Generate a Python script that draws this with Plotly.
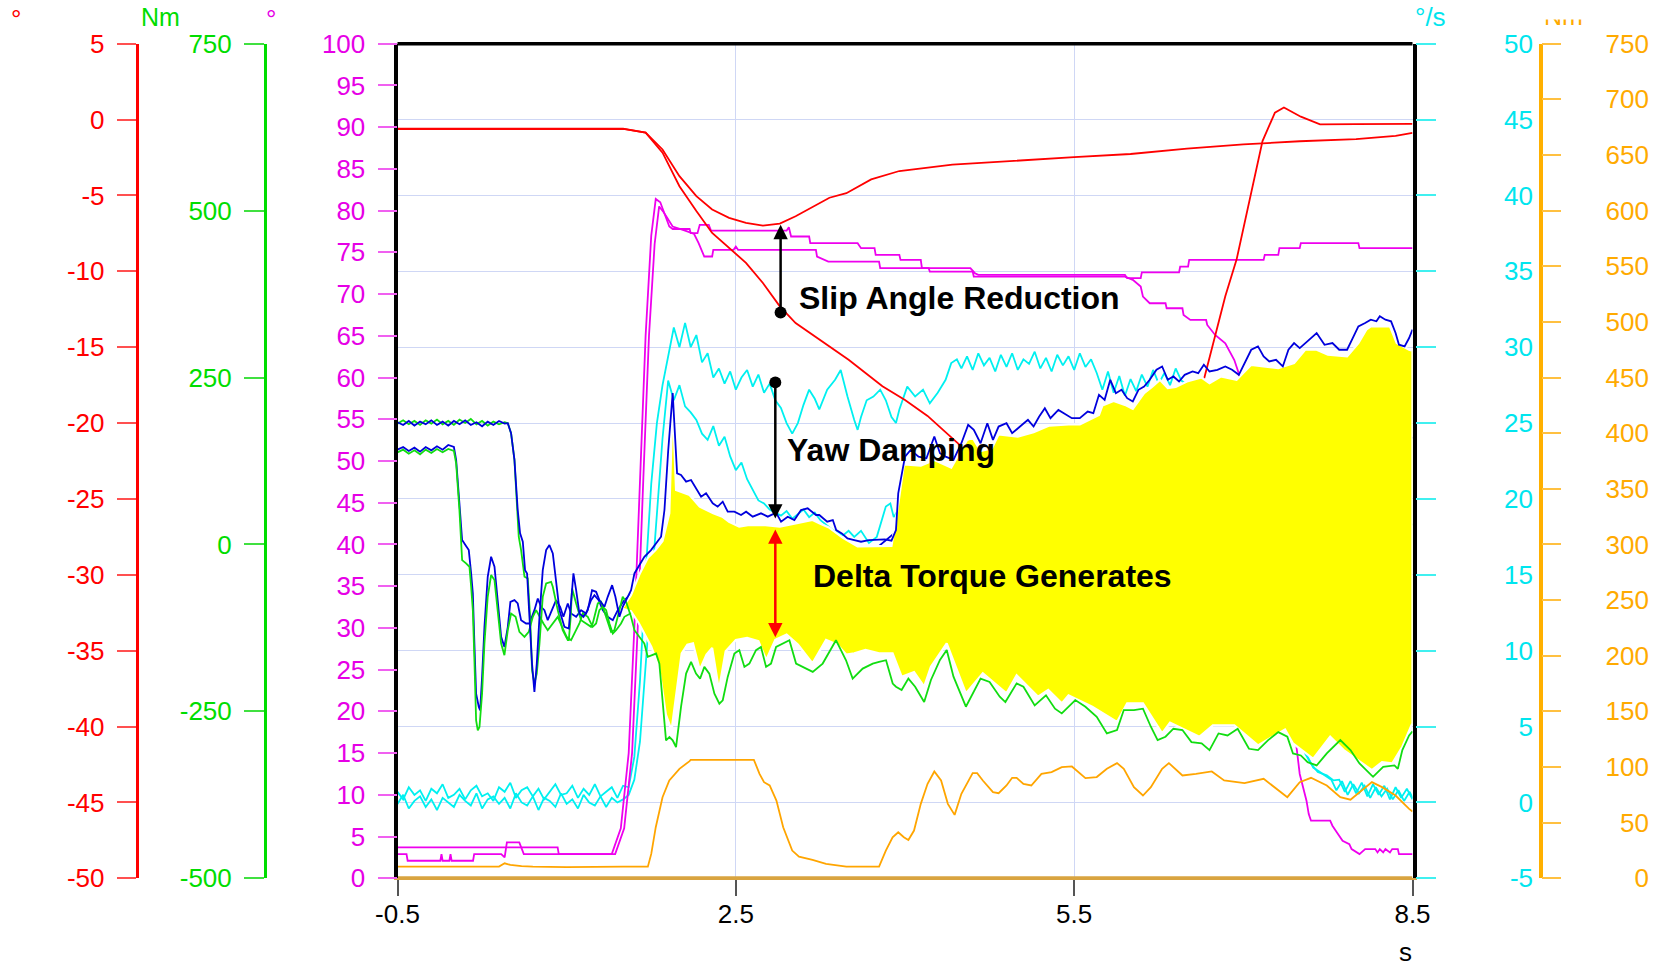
import plotly.graph_objects as go

# ================= DATA =================
# x: time in s
X_TICKVALS = [-0.5, 2.5, 5.5, 8.5]
X_TICKTEXT = ["-0.5", "2.5", "5.5", "8.5"]

RED_TICKVALS = [-50, -45, -40, -35, -30, -25, -20, -15, -10, -5, 0, 5]
RED_TICKTEXT = ["-50", "-45", "-40", "-35", "-30", "-25", "-20", "-15", "-10", "-5", "0", "5"]
GREEN_TICKVALS = [-500, -250, 0, 250, 500, 750]
GREEN_TICKTEXT = ["-500", "-250", "0", "250", "500", "750"]
MAG_TICKVALS = [0, 5, 10, 15, 20, 25, 30, 35, 40, 45, 50, 55, 60, 65, 70, 75, 80, 85, 90, 95, 100]
MAG_TICKTEXT = ["0", "5", "10", "15", "20", "25", "30", "35", "40", "45", "50", "55", "60", "65",
                "70", "75", "80", "85", "90", "95", "100"]
CYAN_TICKVALS = [-5, 0, 5, 10, 15, 20, 25, 30, 35, 40, 45, 50]
CYAN_TICKTEXT = ["-5", "0", "5", "10", "15", "20", "25", "30", "35", "40", "45", "50"]
ORANGE_TICKVALS = [0, 50, 100, 150, 200, 250, 300, 350, 400, 450, 500, 550, 600, 650, 700, 750]
ORANGE_TICKTEXT = ["0", "50", "100", "150", "200", "250", "300", "350", "400", "450", "500",
                   "550", "600", "650", "700", "750"]

# ---- red (deg), slip angle, scale -50..5
red1_t = [-0.5, 0.5, 1.5, 1.70, 1.85, 2.0, 2.15, 2.29, 2.44, 2.59, 2.74, 2.89, 3.03, 3.33, 3.48,
          3.7, 3.95, 4.42, 5.0, 5.5, 6.0, 6.5, 7.0, 7.5, 8.0, 8.35, 8.5]
red1_v = [-0.60, -0.58, -0.60, -0.86, -1.97, -3.73, -5.05, -5.93, -6.48, -6.81, -6.99, -6.85, -6.37,
          -5.15, -4.85, -3.94, -3.39, -2.97, -2.69, -2.48, -2.27, -1.92, -1.64, -1.43, -1.29, -1.08, -0.87]
red2_t = [-0.5, 0.5, 1.5, 1.70, 1.85, 2.0, 2.15, 2.29, 2.44, 2.59, 2.74, 2.89, 3.03, 3.24, 3.5, 3.8,
          4.0, 4.2, 4.45, 5.0, 5.5, 6.0, 6.2, 6.4, 6.55, 6.70, 6.84, 6.94, 7.17, 7.28, 7.36, 7.51, 7.68,
          8.0, 8.46, 8.5]
red2_v = [-0.62, -0.60, -0.62, -0.86, -2.18, -4.39, -6.03, -7.47, -8.46, -9.44, -10.77, -12.31, -13.41,
          -14.50, -15.83, -17.57, -18.48, -19.53, -21.21, -24.77, -28.06, -31.20, -32.25, -25.61, -20.02,
          -15.69, -11.65, -9.23, -1.42, 0.46, 0.79, 0.19, -0.32, -0.30, -0.27, -0.28]

# ---- magenta (deg), scale 0..100
mag1_t = [-0.5, 0.92, 0.93, 1.40, 1.48, 1.55, 1.60, 1.65, 1.70, 1.75, 1.79, 1.83, 1.91, 1.94, 2.09,
          2.10, 2.16, 2.18, 2.26, 2.28, 2.95, 2.97, 2.99, 3.15, 3.16, 3.58, 3.61, 3.73, 3.74, 3.95, 3.96,
          4.14, 4.15, 4.58, 4.62, 4.65, 5.95, 5.97, 6.09, 6.10, 6.43, 6.44, 6.51, 6.52, 7.18, 7.19, 7.31,
          7.32, 7.50, 7.51, 8.02, 8.03, 8.5]
mag1_v = [3.7, 3.7, 2.9, 2.9, 6, 15, 30, 48, 65, 77, 81.4, 81.0, 78.1, 77.8, 77.8,
          77.3, 77.3, 78.3, 78.3, 77.6, 77.6, 78.0, 76.9, 76.9, 76.1, 76.1, 75.5, 75.5, 74.7, 74.7, 74.1,
          74.1, 73.1, 73.1, 72.5, 72.3, 72.3, 71.9, 71.9, 72.6, 72.6, 73.3, 73.3, 74.1, 74.1, 74.7, 74.7,
          75.5, 75.5, 76.1, 76.1, 75.5, 75.5]
mag2_t = [-0.5, -0.42, -0.41, -0.12, -0.11, -0.10, -0.04, -0.03, -0.02, 0.17,
          0.18, 0.42, 0.45, 0.47, 0.58, 0.62, 1.43, 1.51, 1.58, 1.63,
          1.68, 1.73, 1.78, 1.82, 1.86, 1.94, 2.05, 2.13, 2.17, 2.22,
          2.29, 2.30, 2.48, 2.50, 2.52, 3.21, 3.22, 3.32, 3.77, 3.78,
          4.21, 4.22, 4.60, 4.61, 5.95, 6.02, 6.09, 6.11, 6.17, 6.31,
          6.32, 6.46, 6.47, 6.53, 6.67, 6.68, 6.75, 6.84, 6.92, 6.96,
          7.10, 7.25, 7.40, 7.47, 7.50, 7.56, 7.58, 7.60, 7.77, 7.79,
          7.83, 7.88, 7.94, 7.96, 8.03, 8.08, 8.17, 8.19, 8.21, 8.24,
          8.26, 8.30, 8.32, 8.37, 8.38, 8.5]
mag2_v = [2.9, 2.9, 2.1, 2.1, 2.9, 2.1, 2.1, 2.9, 2.1, 2.1,
          2.9, 2.9, 2.5, 4.3, 4.3, 2.9, 2.9, 6, 15, 30,
          48, 65, 76, 80.5, 79.8, 78.1, 77.6, 77.2, 76.1, 74.5,
          74.5, 75.3, 75.3, 75.7, 75.3, 75.3, 74.5, 73.9, 73.9, 73.1,
          73.1, 72.7, 72.7, 72.1, 72.1, 71.7, 70.9, 69.7, 68.9, 68.9,
          68.3, 68.3, 67.5, 66.9, 66.9, 66.3, 65.1, 64.1, 62.1, 60.5,
          50, 35, 21, 15.9, 12.5, 9.3, 7.7, 6.9, 6.9, 6.3,
          5.5, 4.5, 4.1, 3.5, 2.9, 3.5, 3.5, 3.1, 3.5, 3.1,
          3.5, 3.1, 3.5, 3.5, 2.9, 2.9]

# ---- cyan (deg/s), yaw rate, scale -5..50
cyan1_t = [-0.5, -0.45, -0.4, -0.35, -0.3, -0.25, -0.2, -0.15, -0.1, -0.05, 0.0, 0.05, 0.1, 0.15,
           0.2, 0.25, 0.3, 0.35, 0.4, 0.45, 0.5, 0.55, 0.6, 0.65, 0.7, 0.75, 0.8, 0.85, 0.9, 0.95,
           1.0, 1.05, 1.1, 1.15, 1.2, 1.25, 1.3, 1.35, 1.4, 1.45, 1.5,
           1.55, 1.6, 1.65, 1.7, 1.75, 1.8, 1.85, 1.9, 1.95, 2.0, 2.05, 2.1, 2.15, 2.2, 2.25, 2.3,
           2.35, 2.4, 2.45, 2.5, 2.55, 2.6, 2.65, 2.7, 2.75, 2.8, 2.85, 2.9, 2.95, 3.0, 3.05, 3.1,
           3.15, 3.2,
           3.24, 3.31, 3.38, 3.43, 3.46, 3.49, 3.55, 3.58, 3.61, 3.66, 3.72, 3.78, 3.83, 3.88, 3.92,
           3.95, 4.02, 4.09, 4.16, 4.22, 4.29, 4.36, 4.41, 4.46,
           4.5, 4.55, 4.6, 4.65, 4.7, 4.75, 4.8, 4.85, 4.9, 4.95, 5.0, 5.05, 5.1, 5.15, 5.2, 5.25,
           5.3, 5.35, 5.4, 5.45, 5.5, 5.55, 5.6, 5.65,
           5.7, 5.75, 5.8, 5.85, 5.9, 5.95, 6.0, 6.05, 6.1, 6.15, 6.2, 6.25, 6.3, 6.35, 6.4, 6.45,
           6.6, 6.8, 7.0, 7.2, 7.4, 7.55,
           7.6, 7.66, 7.74, 7.8, 7.85, 7.9, 7.95, 8.0, 8.05, 8.1, 8.15, 8.2, 8.25, 8.3, 8.35, 8.4,
           8.45, 8.5]
cyan1_v = [0.7, 0.2, 1.0, 0.5, 0.8, 0.1, 0.9, 0.6, 1.2, 0.3, 0.5, 0.9, 0.2, 0.8,
           1.1, 0.4, 0.6, 0.1, 1.0, 0.7, 1.3, 0.3, 0.8, 1.0, 0.4, 0.9, 0.2, 0.7, 1.2, 0.5,
           0.6, 1.1, 0.3, 0.9, 0.5, 1.2, 0.4, 0.7, 1.0, 0.3, 1.1,
           1.0, 3.0, 8.0, 15.0, 21.0, 25.0, 27.5, 29.5, 31.3, 30.0, 31.6, 30.0, 30.8, 29.0, 29.6, 28.0,
           28.6, 27.6, 28.4, 27.2, 28.0, 28.5, 27.4, 28.2, 27.0, 27.6, 26.5, 26.0, 25.0, 24.3, 25.0, 26.2,
           27.2, 26.6,
           25.9, 27.2, 27.85, 28.5, 27.6, 26.75, 25.2, 24.55, 25.4, 26.5, 26.75, 27.2, 26.5, 25.4, 25.0,
           25.9, 27.4, 26.75, 27.2, 26.3, 27.0, 27.85, 28.95, 29.2,
           28.6, 29.4, 28.5, 29.6, 28.8, 29.3, 28.4, 29.5, 28.7, 29.6, 28.5, 29.2, 28.9, 29.7, 28.6, 29.3,
           28.4, 29.5, 28.8, 29.4, 28.5, 29.6, 28.7, 29.2,
           28.3, 27.2, 28.4, 27.0, 28.1, 26.8, 27.9, 27.1, 28.2, 27.4, 28.5, 27.6, 28.3, 27.5, 28.6, 27.8,
           27.0, 24.0, 18.0, 12.0, 6.0, 3.2,
           2.55, 2.0, 1.78, 1.45, 1.5, 0.7, 1.4, 0.6, 1.3, 0.4, 1.2, 0.5, 1.1, 0.2, 1.0, 0.3,
           0.9, 0.2]
cyan2_t = [-0.5, -0.45, -0.4, -0.35, -0.3, -0.25, -0.2, -0.15, -0.1, -0.05, 0.0, 0.05, 0.1, 0.15,
           0.2, 0.25, 0.3, 0.35, 0.4, 0.45, 0.5, 0.55, 0.6, 0.65, 0.7, 0.75, 0.8, 0.85, 0.9, 0.95,
           1.0, 1.05, 1.1, 1.15, 1.2, 1.25, 1.3, 1.35, 1.4, 1.45, 1.5,
           1.55, 1.6, 1.65, 1.7, 1.75, 1.8, 1.85, 1.9, 1.95, 2.0, 2.05, 2.1, 2.15, 2.2, 2.25, 2.3,
           2.35, 2.4, 2.45, 2.5, 2.55, 2.6, 2.65, 2.7, 2.75, 2.8, 2.85,
           2.9, 2.95, 3.0, 3.05, 3.1, 3.15, 3.2, 3.25, 3.3, 3.35, 3.4, 3.45, 3.5, 3.55,
           3.61, 3.68, 3.75, 3.8, 3.83, 3.87, 3.9,
           4.0, 4.5, 5.0, 5.5, 6.0, 6.5, 7.0, 7.3, 7.5,
           7.62, 7.7, 7.78, 7.825, 7.875, 7.925, 7.975, 8.025, 8.075, 8.125, 8.175, 8.225, 8.275,
           8.325, 8.375, 8.425, 8.475, 8.5]
cyan2_v = [-0.1, 0.5, -0.4, 0.1, 0.4, -0.3, 0.2, -0.5, 0.3, 0.0, -0.3, 0.5, 0.1, -0.2,
           0.6, -0.4, 0.2, 0.4, -0.1, 0.3, -0.4, 0.6, 0.0, -0.2, 0.4, -0.5, 0.3, 0.1, -0.3, 0.6,
           -0.1, 0.2, -0.4, 0.5, 0.0, -0.2, 0.4, -0.3, 0.3, 0.0, 0.2,
           0.5, 1.5, 4.0, 9.0, 14.0, 19.0, 24.0, 27.8, 26.5, 27.5, 26.1, 25.7, 25.2, 24.3, 23.9, 24.8,
           23.5, 24.1, 22.8, 21.9, 22.4, 21.3, 20.6, 19.9, 19.7, 19.3, 19.1,
           18.9, 19.2, 18.7, 19.0, 19.3, 18.8, 19.1, 18.6, 18.3, 18.0, 17.8, 17.6, 17.9, 17.5,
           17.9, 17.1, 17.5, 18.8, 19.5, 19.7, 18.8,
           20.0, 21.0, 22.0, 22.5, 23.0, 22.0, 16.0, 9.0, 4.0,
           2.3, 1.9, 1.5, 0.8, 1.4, 0.5, 1.2, 0.6, 1.1, 0.3, 1.0, 0.4, 0.9,
           0.2, 0.8, 0.1, 0.7, 0.3]

# ---- orange (Nm), scale 0..750
orange_t = [-0.5, 0.40, 0.45, 0.50, 0.60, 0.70, 1.00, 1.30, 1.50, 1.72,
            1.75, 1.79, 1.85, 1.91, 2.00, 2.09, 2.10, 2.66, 2.71, 2.75,
            2.80, 2.86, 2.92, 3.00, 3.06, 3.18, 3.30, 3.48, 3.77, 3.83,
            3.89, 3.94, 3.99, 4.03, 4.08, 4.14, 4.20, 4.26, 4.32, 4.38,
            4.44, 4.50, 4.60, 4.64, 4.69, 4.78, 4.83, 4.90, 4.95, 4.99,
            5.05, 5.12, 5.21, 5.30, 5.39, 5.48, 5.60, 5.70, 5.79, 5.88,
            5.94, 6.03, 6.11, 6.18, 6.28, 6.34, 6.46, 6.58, 6.72, 6.83,
            7.01, 7.18, 7.28, 7.39, 7.50, 7.60, 7.74, 7.86, 7.95, 8.05,
            8.14, 8.23, 8.35, 8.47, 8.5]
orange_v = [10.5, 10.5, 13.5, 12.0, 11.0, 10.5, 10.0, 10.5, 10.5, 10.5,
            21.9, 45.9, 72.9, 87.9, 98.4, 105.3, 106.5, 106.5, 93.9, 86.4,
            83.4, 69.9, 45.9, 24.9, 19.5, 16.5, 12.9, 10.5, 10.5, 24.9,
            36.9, 41.4, 36.9, 34.5, 42.9, 66.9, 84.9, 96.0, 87.9, 66.9,
            57.0, 75.9, 94.5, 94.5, 87.9, 77.4, 76.5, 83.4, 90.3, 90.3,
            84.9, 83.4, 93.9, 95.4, 99.9, 100.5, 90.0, 91.0, 98.4, 103.5,
            98.4, 81.9, 74.4, 81.9, 98.4, 103.5, 92.4, 93.9, 96.0, 87.9,
            85.5, 89.4, 81.9, 72.9, 86.4, 90.3, 83.4, 72.9, 70.6, 79.0,
            86.4, 81.9, 74.4, 62.4, 60.0]
orange0_t = [-0.5, 8.5]
orange0_v = [0, 0]

# ---- torques (Nm), scale -500..750 : blue / green pairs
blueA_t = [-0.5, -0.45, -0.4, -0.35, -0.3, -0.25, -0.2, -0.15, -0.1, -0.05,
           0.0, 0.05, 0.1, 0.15, 0.2, 0.25, 0.3, 0.35, 0.4, 0.45,
           0.478, 0.507, 0.537, 0.566, 0.587, 0.611, 0.631, 0.649, 0.670, 0.693,
           0.714, 0.735, 0.759, 0.788, 0.818, 0.847, 0.877, 0.906, 0.936, 0.980,
           1.019, 1.048, 1.060, 1.084, 1.113, 1.149, 1.187, 1.225, 1.261, 1.290,
           1.335, 1.364, 1.403, 1.432, 1.468, 1.497, 1.527, 1.571, 1.601, 1.645,
           1.689, 1.748, 1.793, 1.837, 1.867, 1.90, 1.940, 1.979, 2.014, 2.059,
           2.103, 2.147, 2.192, 2.236, 2.295, 2.339, 2.384, 2.428, 2.487, 2.546,
           2.591, 2.650, 2.723, 2.783, 2.857, 2.901, 2.960, 3.019, 3.078, 3.137,
           3.211, 3.24, 3.31, 3.36, 3.39, 3.44, 3.49, 3.55, 3.61, 3.68,
           3.75, 3.82, 3.88, 3.92, 3.94, 3.97, 4.00, 4.05, 4.12, 4.19,
           4.26, 4.31, 4.36, 4.43, 4.50, 4.56, 4.61, 4.67, 4.73, 4.78,
           4.83, 4.90, 4.95, 5.02, 5.09, 5.14, 5.19, 5.24, 5.29, 5.36,
           5.41, 5.48, 5.55, 5.62, 5.67, 5.72, 5.77, 5.82, 5.87, 5.92,
           5.97, 6.02, 6.07, 6.12, 6.17, 6.23, 6.28, 6.33, 6.38, 6.43,
           6.48, 6.55, 6.60, 6.65, 6.70, 6.77, 6.84, 6.90, 6.96, 7.01,
           7.07, 7.13, 7.18, 7.23, 7.29, 7.35, 7.40, 7.45, 7.50, 7.55,
           7.60, 7.65, 7.72, 7.79, 7.85, 7.92, 7.97, 8.02, 8.08, 8.13,
           8.18, 8.21, 8.26, 8.31, 8.35, 8.38, 8.43, 8.47, 8.5]
blueA_v = [183, 179, 185, 178, 184, 180, 186, 179, 184, 178,
           185, 180, 186, 179, 183, 177, 184, 179, 185, 181,
           181.6, 166.6, 126.6, 51.6, 16.6, 4.1, -38.4, -43.4, -108.4, -178.4,
           -220.9, -178.4, -108.4, -38.4, -8.4, -0.9, -13.4, -58.4, -98.4, -123.4,
           -125.9, -68.4, -43.4, -68.4, -103.4, -108.4, -98.4, -68.4, -70.9, -83.4,
           -93.4, -78.4, -60.9, -78.4, -108.4, -93.4, -83.4, -68.4, -43.4, -30.9,
           -18.4, -8.4, 1.6, 11.6, 51.6, 140, 226.6, 106.6, 104.1, 94.1,
           96.6, 84.1, 71.6, 76.6, 61.6, 56.6, 64.1, 49.1, 49.1, 44.1,
           49.1, 41.6, 46.6, 41.6, 47.6, 34.1, 41.6, 36.6, 51.6, 54.1,
           44.1, 44.1, 34.1, 36.6, 21.6, 16.6, 9.1, 6.6, 4.1, 6.6,
           6.6, 7.6, 5.6, 21.6, 76.6, 106.6, 131.6, 141.6, 131.6, 129.1,
           161.6, 136.6, 131.6, 126.6, 151.6, 179.1, 171.6, 151.6, 181.6, 156.6,
           176.6, 181.6, 166.6, 176.6, 186.6, 176.6, 191.6, 204.1, 189.1, 201.6,
           196.6, 189.1, 189.1, 199.1, 196.6, 224.1, 216.6, 246.6, 226.6, 231.6,
           219.1, 214.1, 231.6, 236.6, 246.6, 261.6, 266.6, 246.6, 251.6, 244.1,
           254.1, 259.1, 256.6, 269.1, 259.1, 261.6, 266.6, 261.6, 254.1, 271.6,
           291.6, 296.6, 281.6, 274.1, 276.6, 266.6, 291.6, 301.6, 294.1, 301.6,
           309.1, 316.6, 299.1, 301.6, 291.6, 291.6, 309.1, 326.7, 331.7, 336.7,
           334.2, 341.7, 336.7, 334.2, 316.7, 299.2, 296.7, 309.2, 321.7]

greenA_t = [-0.5, -0.45, -0.4, -0.35, -0.3, -0.25, -0.2, -0.15, -0.1, -0.05,
            0.0, 0.05, 0.1, 0.15, 0.2, 0.25, 0.3, 0.35, 0.4, 0.45,
            0.478, 0.507, 0.537, 0.558, 0.575, 0.596, 0.626, 0.655, 0.676, 0.693,
            0.714, 0.735, 0.759, 0.788, 0.818, 0.862, 0.877, 0.921, 0.965, 1.010,
            1.019, 1.035, 1.048, 1.084, 1.128, 1.172, 1.216, 1.231, 1.276, 1.305,
            1.350, 1.394, 1.423, 1.468, 1.497, 1.527, 1.571, 1.601, 1.645, 1.689,
            1.719, 1.763, 1.793, 1.822, 1.852, 1.881, 1.911, 1.940, 1.970, 2.014,
            2.059, 2.103, 2.147, 2.183, 2.221, 2.265, 2.310, 2.354, 2.384, 2.428,
            2.487, 2.531, 2.576, 2.620, 2.679, 2.723, 2.768, 2.812, 2.857, 2.975,
            3.034, 3.093, 3.182, 3.270, 3.388, 3.477, 3.536, 3.625, 3.714, 3.77,
            3.832, 3.891, 3.92, 3.97, 4.03, 4.09, 4.17, 4.23, 4.31, 4.37,
            4.43, 4.54, 4.63, 4.67, 4.75, 4.84, 4.89, 4.99, 5.05, 5.15,
            5.25, 5.33, 5.39, 5.51, 5.60, 5.70, 5.79, 5.88, 5.94, 6.03,
            6.11, 6.18, 6.24, 6.31, 6.38, 6.46, 6.54, 6.63, 6.70, 6.78,
            6.86, 6.95, 7.05, 7.13, 7.22, 7.31, 7.39, 7.44, 7.51, 7.57,
            7.65, 7.74, 7.86, 7.95, 8.03, 8.08, 8.15, 8.24, 8.34, 8.37,
            8.41, 8.47, 8.5]
greenA_v = [181, 186, 180, 185, 179, 186, 181, 187, 180, 185,
            179, 187, 182, 188, 180, 185, 178, 184, 180, 183,
            181.6, 166.6, 126.6, 51.6, 11.6, -8.4, -48.4, -50.9, -108.4, -188.4,
            -208.4, -193.4, -148.4, -78.4, -58.4, -55.9, -63.4, -98.4, -128.4, -143.4,
            -143.4, -110, -65.9, -88.4, -113.4, -118.4, -123.4, -118.4, -88.4, -85.9,
            -108.4, -130.9, -128.4, -98.4, -78.4, -85.9, -108.4, -128.4, -138.4, -148.4,
            -168.4, -165.9, -163.4, -178.4, -243.4, -293.4, -288.4, -293.4, -303.4, -243.4,
            -193.4, -175.9, -193.4, -200.9, -183.4, -193.4, -223.4, -238.4, -233.4, -198.4,
            -163.4, -158.4, -183.4, -178.4, -158.4, -153.4, -183.4, -178.4, -153.4, -143.4,
            -178.4, -183.4, -190.9, -178.4, -143.4, -173.4, -200.9, -185.9, -178.4, -176,
            -173.4, -208.4, -213, -218, -201, -213, -236, -203, -173, -158,
            -198, -243, -213, -201, -206, -228, -236, -208, -213, -241,
            -226, -246, -253, -233, -243, -258, -283, -278, -248, -248,
            -246, -273, -293, -288, -276, -278, -296, -298, -308, -283,
            -286, -276, -306, -308, -293, -281, -288, -313, -316, -326,
            -331, -313, -293, -308, -328, -336, -348, -333, -331, -336,
            -308, -286, -280]

blueB_t = [-0.5, -0.45, -0.4, -0.35, -0.3, -0.25, -0.2, -0.15, -0.1, -0.05, 0.0,
           0.020, 0.049, 0.073, 0.102, 0.132, 0.153, 0.168, 0.182, 0.197, 0.221,
           0.233, 0.250, 0.271, 0.300, 0.330, 0.360, 0.389, 0.419, 0.448, 0.478,
           0.501, 0.537, 0.566, 0.596, 0.640, 0.670, 0.714, 0.744, 0.773, 0.803,
           0.832, 0.870, 0.906, 0.942, 0.971, 1.010, 1.039, 1.084, 1.128, 1.172,
           1.216, 1.246, 1.284, 1.320, 1.364, 1.409, 1.453, 1.491, 1.512, 1.6,
           1.8, 2.0, 2.5, 3.0, 3.5, 4.0, 5.0, 6.0, 7.0, 8.0, 8.5]
blueB_v = [142, 146, 140, 145, 139, 146, 141, 147, 142, 149, 146,
           126.6, 61.6, 6.6, -0.9, -8.4, -43.4, -73.4, -148.4, -223.4, -243.4,
           -248.4, -198.4, -123.4, -48.4, -18.4, -33.4, -88.4, -138.4, -153.4, -123.4,
           -85.9, -83.4, -88.4, -113.4, -118.4, -118.4, -98.4, -80.9, -93.4, -98.4,
           -113.4, -98.4, -83.4, -93.4, -108.4, -88.4, -103.4, -108.4, -98.4, -103.4,
           -83.4, -75.9, -83.4, -98.4, -108.4, -113.4, -98.4, -88.4, -83.4, -70,
           -50, 40, 0, -20, -40, 30, 60, 100, 120, 150, 160]
greenB_t = [-0.5, -0.45, -0.4, -0.35, -0.3, -0.25, -0.2, -0.15, -0.1, -0.05, 0.0,
            0.020, 0.049, 0.073, 0.108, 0.138, 0.153, 0.168, 0.182, 0.197, 0.212,
            0.227, 0.250, 0.271, 0.300, 0.330, 0.360, 0.389, 0.419, 0.448, 0.478,
            0.507, 0.547, 0.581, 0.626, 0.664, 0.700, 0.729, 0.759, 0.794, 0.832,
            0.877, 0.921, 0.959, 1.000, 1.039, 1.069, 1.113, 1.143, 1.187, 1.231,
            1.261, 1.290, 1.320, 1.350, 1.379, 1.409, 1.438, 1.482, 1.512, 1.6,
            1.8, 2.0, 2.5, 3.0, 3.5, 4.0, 5.0, 6.0, 7.0, 8.0, 8.5]
greenB_v = [138, 142, 136, 141, 135, 142, 137, 143, 138, 143, 140,
            121.6, 51.6, -23.4, -28.4, -33.4, -63.4, -98.4, -173.4, -263.4, -278.4,
            -273.4, -223.4, -148.4, -78.4, -45.9, -53.4, -98.4, -148.4, -165.9, -128.4,
            -103.4, -108.4, -130.9, -138.4, -130.9, -108.4, -98.4, -108.4, -118.4, -128.4,
            -118.4, -108.4, -123.4, -138.4, -143.4, -133.4, -118.4, -103.4, -108.4, -123.4,
            -118.4, -98.4, -93.4, -98.4, -118.4, -133.4, -128.4, -118.4, -108.4, -100,
            -90, -40, -60, -80, -100, -60, -40, -20, 0, 20, 30]

# ---- delta torque band (yellow), upper and lower envelopes, Nm
yel_up_t = [1.49, 1.57, 1.65, 1.72, 1.79, 1.85, 1.91, 1.94, 1.97, 2.09,
            2.18, 2.30, 2.38, 2.44, 2.53, 2.62, 2.74, 2.89, 3.03, 3.18,
            3.24, 3.33, 3.45, 3.58, 3.88, 3.94, 3.99, 4.14, 4.26, 4.41,
            4.55, 4.60, 4.67, 4.77, 4.83, 5.00, 5.14, 5.28, 5.45, 5.55,
            5.72, 5.75, 5.85, 5.95, 6.02, 6.12, 6.19, 6.26, 6.33, 6.40,
            6.50, 6.63, 6.70, 6.80, 6.94, 7.07, 7.18, 7.31, 7.45, 7.55,
            7.65, 7.75, 7.92, 8.02, 8.09, 8.13, 8.30, 8.36, 8.47, 8.5]
yel_up_v = [-96, -76, -43, -20, -8, 5, 46.6, 215, 81.6, 74.1,
            56.6, 46.6, 41.6, 34.1, 26.6, 29.1, 29.1, 26.6, 31.6, 36.6,
            31.6, 25, 10, -3, -2, 60, 120, 118, 126.6, 115,
            156.6, 160, 140, 144.1, 165, 161.6, 168, 178, 180, 180,
            194.1, 208, 215, 209.1, 203, 226.6, 236, 246.6, 234.1, 236,
            244, 250, 241.6, 251.6, 246.6, 269.1, 266.6, 264.1, 271.6, 292,
            291.6, 284.1, 281.6, 301.6, 321.6, 326.7, 326.7, 301.7, 291.7, 290]
yel_lo_t = [1.49, 1.57, 1.64, 1.70, 1.75, 1.82, 1.88, 1.93, 1.97, 2.02,
            2.07, 2.12, 2.18, 2.24, 2.29, 2.35, 2.41, 2.50, 2.60, 2.70,
            2.77, 2.85, 2.95, 3.05, 3.18, 3.30, 3.40, 3.48, 3.55, 3.65,
            3.77, 3.89, 3.97, 4.08, 4.17, 4.23, 4.37, 4.54, 4.69, 4.90,
            4.99, 5.18, 5.27, 5.39, 5.45, 5.66, 5.88, 5.97, 6.11, 6.28,
            6.35, 6.61, 6.73, 6.92, 7.13, 7.37, 7.44, 7.62, 7.77, 7.89,
            8.14, 8.23, 8.32, 8.41, 8.49, 8.5]
yel_lo_v = [-96, -100, -118, -138, -153, -185, -255, -278, -230, -163,
            -150, -148, -188, -165, -155, -218, -160, -143, -140, -145,
            -173, -143, -135, -150, -178, -143, -150, -165, -163, -158,
            -163, -163, -198, -191, -213, -183, -148, -223, -193, -223,
            -196, -228, -218, -238, -226, -243, -266, -238, -238, -283,
            -267, -288, -271, -271, -301, -277, -298, -321, -288, -308,
            -338, -326, -328, -303, -271, -268]

# ================= STYLE =================
W, H = 1660, 970
PX0, PX1 = 397.5, 1412.5      # plot area, px
PY0, PY1 = 43.7, 878.3
FONT = "Liberation Sans, Arial, Helvetica, sans-serif"
TICK_SIZE = 26

RED = "#ff0000"
GREEN = "#11dd11"
MAGENTA = "#ee00ee"
CYAN = "#00f0f0"
ORANGE = "#ffa500"
BLUE = "#0000dd"
YELLOW = "#ffff00"
GRID = "#cfd7f5"
LW = 1.8


def fx(p):
    return p / W


def fy(p):
    return 1 - p / H


fig = go.Figure()


def line(x, y, color, axis, width=LW):
    fig.add_trace(go.Scatter(x=x, y=y, mode="lines", yaxis=axis, hoverinfo="skip",
                             line=dict(color=color, width=width)))


# cyan (main axis)
line(cyan2_t, cyan2_v, CYAN, "y")
line(cyan1_t, cyan1_v, CYAN, "y")
# magenta
line(mag2_t, mag2_v, MAGENTA, "y2")
line(mag1_t, mag1_v, MAGENTA, "y2")
# red
line(red1_t, red1_v, RED, "y3")
line(red2_t, red2_v, RED, "y3")
# orange
line(orange_t, orange_v, ORANGE, "y4")
line(orange0_t, orange0_v, "#d9a440", "y4", width=4)
# torques + delta band
line(blueB_t, blueB_v, BLUE, "y5")
line(greenB_t, greenB_v, GREEN, "y5")
fig.add_trace(go.Scatter(x=yel_up_t + yel_lo_t[::-1], y=yel_up_v + yel_lo_v[::-1], mode="lines",
                         yaxis="y5", fill="toself", fillcolor=YELLOW, hoverinfo="skip",
                         line=dict(color="white", width=2.2)))
line(greenA_t, greenA_v, GREEN, "y5")
line(blueA_t, blueA_v, BLUE, "y5")
# label-only axes need a (empty) trace
fig.add_trace(go.Scatter(x=[], y=[], yaxis="y6", mode="lines"))
fig.add_trace(go.Scatter(x=[], y=[], yaxis="y7", mode="lines"))


def tf(color):
    return dict(family=FONT, size=TICK_SIZE, color=color)


common = dict(showgrid=False, zeroline=False, overlaying="y")

fig.update_layout(
    width=W, height=H,
    margin=dict(l=0, r=0, t=0, b=0, autoexpand=False),
    paper_bgcolor="white", plot_bgcolor="white", showlegend=False,
    xaxis=dict(domain=[fx(PX0), fx(PX1)], range=[-0.5, 8.5], tickvals=X_TICKVALS,
               ticktext=X_TICKTEXT, ticks="outside", ticklen=16, tickwidth=1.5, tickcolor="#555555",
               showgrid=True, gridcolor=GRID, gridwidth=1, zeroline=False, showline=True,
               linecolor="#d9a440", linewidth=2, tickfont=tf("black"), anchor="y",
               ticklabelstandoff=-5),
    yaxis=dict(domain=[fy(PY1), fy(PY0)], range=[-5, 50], tickvals=CYAN_TICKVALS, side="right",
               showticklabels=False, ticks="outside", ticklen=20, tickwidth=1.5, tickcolor="#40f0f0",
               showgrid=True, gridcolor=GRID, gridwidth=1, zeroline=False, showline=True,
               linecolor="black", linewidth=3.5, mirror=True, anchor="x"),
    yaxis2=dict(common, side="left", anchor="x", range=[0, 100], tickvals=MAG_TICKVALS,
                ticktext=MAG_TICKTEXT, ticks="outside", ticklen=19, tickwidth=1.5,
                tickcolor="#f060f0", tickfont=tf("#e600e6"), showline=False, ticklabelstandoff=7),
    yaxis3=dict(common, side="left", anchor="free", position=fx(136.7), range=[-50, 5],
                tickvals=RED_TICKVALS, ticktext=RED_TICKTEXT, ticks="outside", ticklen=19,
                tickwidth=1.5, tickcolor="#ff5050", tickfont=tf("#ff0000"), showline=True,
                linecolor=RED, linewidth=3, ticklabelstandoff=7),
    yaxis4=dict(common, side="right", anchor="free", position=fx(1540.7), range=[0, 750],
                tickvals=ORANGE_TICKVALS, ticks="outside", ticklen=19, tickwidth=1.5,
                tickcolor="#ffc040", showticklabels=False, showline=True, linecolor="#ffb000",
                linewidth=3.5),
    yaxis5=dict(common, side="left", anchor="free", position=fx(265), range=[-500, 750],
                tickvals=GREEN_TICKVALS, ticktext=GREEN_TICKTEXT, ticks="outside", ticklen=20,
                tickwidth=1.5, tickcolor="#40e040", tickfont=tf("#00dd00"), showline=True,
                linecolor="#00dd00", linewidth=3, ticklabelstandoff=7),
    yaxis6=dict(common, side="left", anchor="free", position=fx(1533), range=[-5, 50],
                tickvals=CYAN_TICKVALS, ticktext=CYAN_TICKTEXT, ticks="", showline=False,
                tickfont=tf("#00e5ee"), ticklabelstandoff=0),
    yaxis7=dict(common, side="left", anchor="free", position=fx(1649), range=[0, 750],
                tickvals=ORANGE_TICKVALS, ticktext=ORANGE_TICKTEXT, ticks="", showline=False,
                tickfont=tf("#ffaa00"), ticklabelstandoff=0),
)

# top frame line
fig.add_shape(type="line", xref="paper", yref="paper", x0=fx(PX0), x1=fx(PX1), y0=fy(PY0),
              y1=fy(PY0), line=dict(color="black", width=3.5), layer="above")

ann = []


def txt(s, x, y, color, size=26, xanchor="center", yanchor="middle", **kw):
    ann.append(dict(text=s, x=x, y=y, xref="paper", yref="paper", showarrow=False,
                    xanchor=xanchor, yanchor=yanchor,
                    font=dict(family=FONT, size=size, color=color), **kw))


# axis titles
txt("°", fx(16), fy(19), "#ff0000")
txt("Nm", fx(160), fy(17), "#00dd00", size=25)
txt("°", fx(270.5), fy(19), "#e600e6")
txt("°/s", fx(1430), fy(17), "#00e5ee")
txt("Nm", fx(1563), fy(16), "#ffaa00", size=25)
txt(" ", fx(1563), 1.0, "white", yanchor="top", bgcolor="white", width=70, height=18, borderpad=0)
txt("s", fx(1405), fy(952), "black")

# arrows
def arrow(x, y, ay, color, head, start_head):
    ann.append(dict(x=x, y=y, ax=x, ay=ay, xref="x", yref="y2", axref="x", ayref="y2", text="",
                    showarrow=True, arrowside="end+start", arrowhead=head,
                    startarrowhead=start_head, arrowsize=1.15,
                    startarrowsize=1.2 if start_head == 6 else 1.15,
                    arrowwidth=2.5, arrowcolor=color))


arrow(2.897, 78.3, 67.6, "black", 2, 6)
arrow(2.85, 43.1, 59.6, "black", 2, 6)
arrow(2.85, 41.8, 28.7, "#ff0000", 2, 2)

BOLD = dict(family=FONT, size=32, color="black")
ann.append(dict(text="<b>Slip Angle Reduction</b>", x=3.04, y=69.5, xref="x", yref="y2",
                showarrow=False, xanchor="left", yanchor="middle", font=BOLD))
ann.append(dict(text="<b>Yaw Damping</b>", x=2.935, y=51.3, xref="x", yref="y2",
                showarrow=False, xanchor="left", yanchor="middle", font=BOLD))
ann.append(dict(text="<b>Delta Torque Generates</b>", x=3.17, y=36.2, xref="x", yref="y2",
                showarrow=False, xanchor="left", yanchor="middle", font=BOLD))

fig.update_layout(annotations=ann)

fig.write_html("out.html", config={"displayModeBar": False})
